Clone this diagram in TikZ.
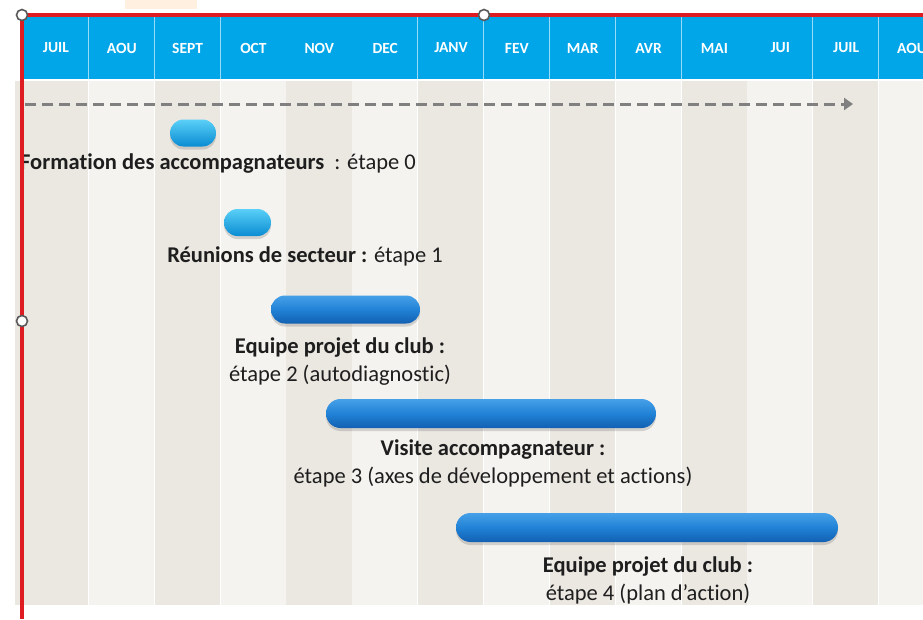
\documentclass[tikz,border=0pt]{standalone}
\usepackage{fontspec}
\setmainfont{Carlito}[Ligatures=NoCommon]
\usepackage{xcolor}
\usetikzlibrary{positioning,arrows.meta,shapes.misc,shadows}

\definecolor{hdrblue}{RGB}{0,166,232}
\definecolor{stripedark}{RGB}{235,231,225}
\definecolor{stripelight}{RGB}{245,243,239}
\definecolor{selred}{RGB}{222,28,34}
\definecolor{txtdark}{RGB}{30,30,30}
\definecolor{bartop}{RGB}{70,160,232}
\definecolor{barmid}{RGB}{33,130,214}
\definecolor{barbot}{RGB}{18,96,178}
\definecolor{pilltop}{RGB}{90,208,248}
\definecolor{pillmid}{RGB}{24,178,238}
\definecolor{pillbot}{RGB}{10,140,210}

\begin{document}
\begin{tikzpicture}[x=1pt, y=-1pt,
  month/.style={font=\fontsize{15.5}{16}\selectfont\bfseries, text=white, inner sep=0pt},
  pill/.style={rounded rectangle, inner sep=0pt, minimum height=28pt,
    top color=bartop, bottom color=barbot, middle color=barmid,
    drop shadow={shadow xshift=0pt, shadow yshift=-3pt, opacity=0.3}},
  smallpill/.style={pill, minimum height=27pt,
    top color=pilltop, middle color=pillmid, bottom color=pillbot},
  lbl/.style={font=\fontsize{22.5}{28}\selectfont, text=txtdark, align=center, inner sep=0pt},
  handle/.style={circle, draw=black!65, line width=1.6pt, fill=white, inner sep=0pt, minimum size=11pt},
  ar/.style={draw=black!50, line width=3pt, dash pattern=on 11pt off 6pt, -{Triangle[length=9pt,width=12pt]}}]
\useasboundingbox (0,0) rectangle (923,619);
\begin{scope}
\clip (0,0) rectangle (923,619);
\fill[orange!12] (125,0) rectangle (197,9);
% month columns
\foreach \m [count=\i from 0] in {JUIL,AOU,SEPT,OCT,NOV,DEC,JANV,FEV,MAR,AVR,MAI,JUI,JUIL,AOU} {
  \pgfmathsetmacro{\xa}{23+65.85*\i}
  \pgfmathsetmacro{\xb}{23+65.85*(\i+1)}
  \pgfmathtruncatemacro{\odd}{mod(\i,2)}
  \ifnum\odd=0 \def\stripe{stripedark}\else \def\stripe{stripelight}\fi
  \fill[\stripe] (\xa,80) rectangle (\xb,605);
  \fill[hdrblue] (\xa,17) rectangle (\xb,80);
  \draw[white, line width=1.5pt] (\xb,80) -- (\xb,605);
  \draw[white!60!hdrblue, line width=1.5pt] (\xb,17) -- (\xb,80);
  \node[month] (m\i) at ({(\xa+\xb)/2},48) {\m};
}
\fill[stripedark] (15,80) rectangle (23,605);
\draw[white, line width=1.5pt] (15,80) -- (923,80);
% timeline
\coordinate (tstart) at (25,104);
\coordinate (tend) at (853,104);
\draw[ar] (tstart) -- (tend);
% steps
\node[smallpill, minimum width=46pt] (bar0) at (193,133) {};
\node[lbl] (lab0) at (218,164) {\textbf{Formation des accompagnateurs}\ \ : étape 0};
\node[smallpill, minimum width=47pt] (bar1) at (247.5,222.5) {};
\node[lbl] (lab1) at (305,256) {\textbf{Réunions de secteur :} étape 1};
\node[pill, minimum width=149pt] (bar2) at (345.5,309.5) {};
\node[lbl] (lab2) at (340,362) {\textbf{Equipe projet du club :}\\étape 2 (autodiagnostic)};
\node[pill, minimum width=330pt, minimum height=29pt] (bar3) at (491,413.5) {};
\node[lbl] (lab3) at (493,463) {\textbf{Visite accompagnateur :}\\étape 3 (axes de développement et actions)};
\node[pill, minimum width=382pt, minimum height=29pt] (bar4) at (647,527.5) {};
\node[lbl] (lab4) at (648,580) {\textbf{Equipe projet du club :}\\étape 4 (plan d’action)};
% selection frame
\draw[selred, line width=3.5pt] (923,15) -- (22,15) -- (22,619);
\node[handle] (h0) at (22,15) {};
\node[handle] (h1) at (484,15) {};
\node[handle] (h2) at (22,321) {};
\end{scope}
\end{tikzpicture}
\end{document}
